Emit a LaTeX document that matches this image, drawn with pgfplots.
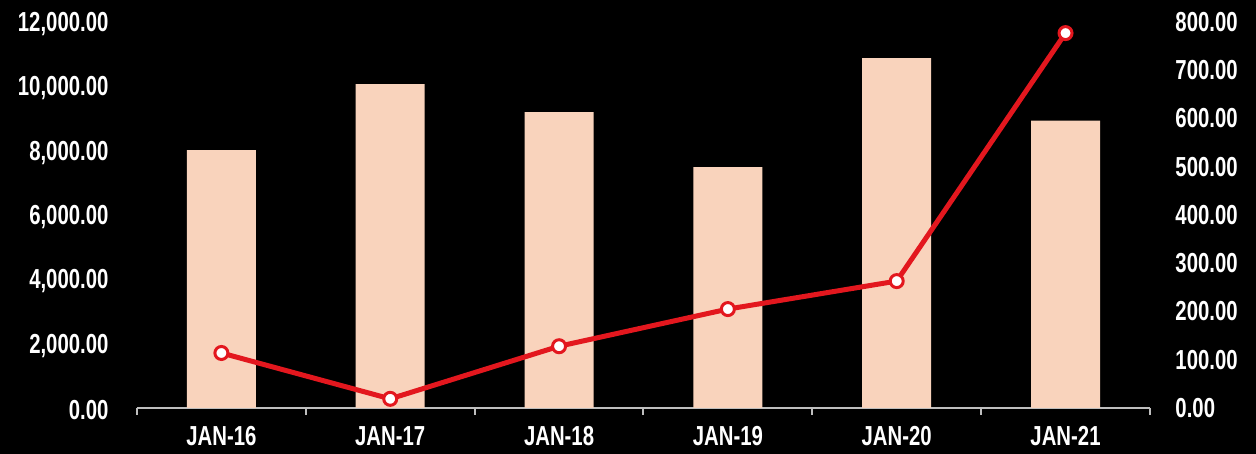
\documentclass[border=0pt]{standalone}
\usepackage{fontspec}
\setmainfont[FakeStretch=0.74]{Liberation Sans}
\usepackage{pgfplots}
\pgfplotsset{compat=1.18}
\definecolor{peach}{HTML}{F9D3BC}
\definecolor{lred}{HTML}{E3171E}
\definecolor{axgray}{HTML}{BEBEBE}
\pgfplotsset{
  common/.style={
    at={(137pt,46pt)}, anchor=south west,
    scale only axis, width=1013pt, height=386pt,
    xmin=-0.5, xmax=5.5, clip=false,
    scaled y ticks=false,
    /pgf/number format/assume math mode=true,
    /pgf/number format/.cd, fixed, fixed zerofill, precision=2, 1000 sep={,},
    /pgfplots/.cd,
    every tick label/.append style={white, font=\fontsize{27.5}{30}\selectfont\bfseries},
  }
}
\begin{document}
\begin{tikzpicture}[x=1pt,y=1pt]
\fill[black] (0,0) rectangle (1256,454);
\begin{axis}[common,
  ymin=0, ymax=12000,
  axis x line*=bottom, axis y line*=left,
  y axis line style={draw=none},
  x axis line style={axgray, line width=2.5pt},
  xtick={0,...,5},
  xticklabels={JAN-16,JAN-17,JAN-18,JAN-19,JAN-20,JAN-21},
  major x tick style={draw=none},
  minor xtick={-0.5,0.5,...,5.5},
  minor x tick style={axgray, line width=2pt},
  minor tick length=7pt, major tick length=0pt, tick align=outside,
  ytick={0,2000,...,12000}, major y tick style={draw=none},
  yticklabel style={anchor=east, xshift=-25pt, yshift=-2pt},
  xticklabel style={anchor=north, yshift=-15pt},
]
\addplot[ybar, bar width=69pt, fill=peach, draw=none] coordinates {
 (0,8020) (1,10070) (2,9200) (3,7490) (4,10880) (5,8930)};
\end{axis}
\begin{axis}[common,
  ymin=0, ymax=800,
  axis x line=none, axis y line*=right,
  y axis line style={draw=none},
  ytick={0,100,...,800}, major y tick style={draw=none}, major tick length=0pt,
  yticklabel style={anchor=west, xshift=22pt},
]
\addplot[lred, line width=5pt, mark=*, mark size=6.5pt,
  mark options={fill=white, draw=lred, line width=3pt}] coordinates {
 (0,114) (1,19) (2,128) (3,205) (4,263) (5,777)};
\end{axis}
\end{tikzpicture}
\end{document}
